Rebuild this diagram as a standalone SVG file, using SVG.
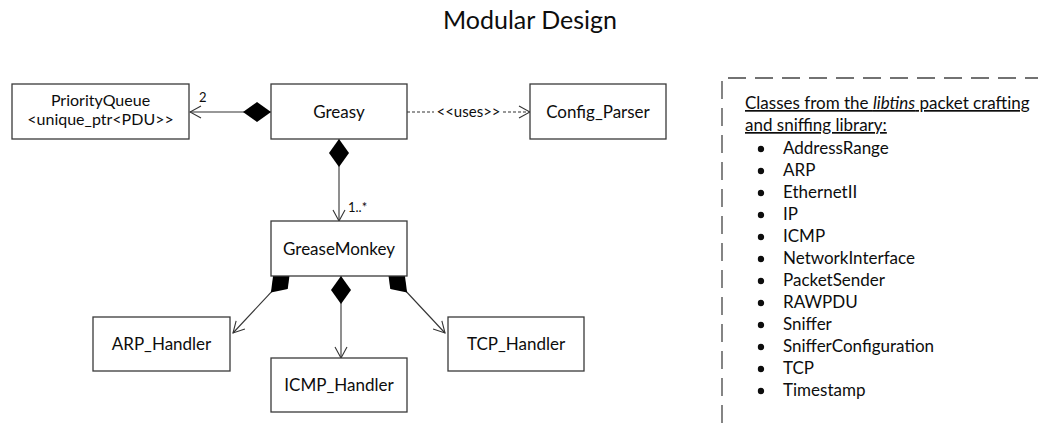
<svg xmlns="http://www.w3.org/2000/svg" width="1038" height="423" viewBox="0 0 1038 423">
  <style>
    text { font-family: Lato, "Open Sans", sans-serif; fill: #0d0d0d; }
    .title { font-size: 25px; text-anchor: middle; }
    .lbl { font-size: 17px; text-anchor: middle; }
    .lbl2 { font-size: 16px; text-anchor: middle; }
    .small { font-size: 13px; }
    .list { font-size: 17px; }
    .box { fill: #fff; stroke: #3a3a3a; stroke-width: 1.3; }
    .conn { fill: none; stroke: #333; stroke-width: 1.1; }
    .dash { fill: none; stroke: #333; stroke-width: 1.1; stroke-dasharray: 3 2; }
    .frame { fill: none; stroke: #444; stroke-width: 1.3; stroke-dasharray: 18 9; }
    .bullet { fill: #0d0d0d; }
  </style>
  <defs>
    <!-- filled composition diamond, anchored at the owning class -->
    <marker id="diamond" markerUnits="userSpaceOnUse" markerWidth="28" markerHeight="20" viewBox="0 0 28 20" refX="0" refY="10" orient="auto">
      <path d="M0,10 L14,0 L28,10 L14,20 Z" fill="#000"/>
    </marker>
    <!-- open navigability arrowhead -->
    <marker id="open" markerUnits="userSpaceOnUse" markerWidth="13" markerHeight="14" viewBox="0 0 13 14" refX="12" refY="7" orient="auto">
      <path d="M1,1 L12,7 L1,13" fill="none" stroke="#333" stroke-width="1.1"/>
    </marker>
  </defs>

  <text class="title" x="530" y="29">Modular Design</text>

  <g id="connectors">
    <path class="conn" d="M271,112 L190,112" marker-start="url(#diamond)" marker-end="url(#open)"/>
    <text class="small" x="199" y="102">2</text>
    <path class="dash" d="M407,112 L434,112"/>
    <path class="dash" d="M503,112 L530,112" marker-end="url(#open)"/>
    <text class="small" x="468.5" y="116.5" style="text-anchor: middle; font-size: 15px;">&lt;&lt;uses&gt;&gt;</text>
    <path class="conn" d="M339,139 L339,221" marker-start="url(#diamond)" marker-end="url(#open)"/>
    <text class="small" x="348" y="212">1..*</text>
    <path class="conn" d="M341,276 L341,358" marker-start="url(#diamond)" marker-end="url(#open)"/>
    <path class="conn" d="M290,272 L233,333" marker-start="url(#diamond)" marker-end="url(#open)"/>
    <path class="conn" d="M388,272 L445,333" marker-start="url(#diamond)" marker-end="url(#open)"/>
  </g>

  <g id="priority-queue">
    <rect class="box" x="12" y="84" width="177" height="55"/>
    <text class="lbl2" x="100.5" y="105.5">PriorityQueue</text>
    <text class="lbl2" x="100.5" y="125">&lt;unique_ptr&lt;PDU&gt;&gt;</text>
  </g>
  <g id="greasy">
    <rect class="box" x="271" y="84" width="136" height="55"/>
    <text class="lbl" x="339" y="118">Greasy</text>
  </g>
  <g id="config-parser">
    <rect class="box" x="530" y="84" width="136" height="55"/>
    <text class="lbl" x="598" y="118">Config_Parser</text>
  </g>
  <g id="grease-monkey">
    <rect class="box" x="271" y="221" width="136" height="55"/>
    <text class="lbl" x="339" y="255">GreaseMonkey</text>
  </g>
  <g id="arp-handler">
    <rect class="box" x="93" y="317" width="137" height="54"/>
    <text class="lbl" x="161.5" y="350">ARP_Handler</text>
  </g>
  <g id="icmp-handler">
    <rect class="box" x="271" y="358" width="136" height="54"/>
    <text class="lbl" x="339" y="391">ICMP_Handler</text>
  </g>
  <g id="tcp-handler">
    <rect class="box" x="448" y="317" width="136" height="54"/>
    <text class="lbl" x="516" y="350">TCP_Handler</text>
  </g>

  <g id="libtins-note">
    <path class="frame" d="M722,423 L722,78 L1038,78"/>
    <text class="list" x="745" y="109" text-decoration="underline">Classes from the <tspan font-style="italic">libtins</tspan> packet crafting</text>
    <text class="list" x="745" y="131" text-decoration="underline">and sniffing library:</text>
    <g class="bullet">
      <circle cx="761" cy="149" r="3.2"/>
      <circle cx="761" cy="171" r="3.2"/>
      <circle cx="761" cy="193" r="3.2"/>
      <circle cx="761" cy="215" r="3.2"/>
      <circle cx="761" cy="237" r="3.2"/>
      <circle cx="761" cy="259" r="3.2"/>
      <circle cx="761" cy="281" r="3.2"/>
      <circle cx="761" cy="303" r="3.2"/>
      <circle cx="761" cy="325" r="3.2"/>
      <circle cx="761" cy="347" r="3.2"/>
      <circle cx="761" cy="369" r="3.2"/>
      <circle cx="761" cy="391" r="3.2"/>
    </g>
    <text class="list" x="783" y="154">AddressRange</text>
    <text class="list" x="783" y="176">ARP</text>
    <text class="list" x="783" y="198">EthernetII</text>
    <text class="list" x="783" y="220">IP</text>
    <text class="list" x="783" y="242">ICMP</text>
    <text class="list" x="783" y="264">NetworkInterface</text>
    <text class="list" x="783" y="286">PacketSender</text>
    <text class="list" x="783" y="308">RAWPDU</text>
    <text class="list" x="783" y="330">Sniffer</text>
    <text class="list" x="783" y="352">SnifferConfiguration</text>
    <text class="list" x="783" y="374">TCP</text>
    <text class="list" x="783" y="396">Timestamp</text>
  </g>
</svg>
